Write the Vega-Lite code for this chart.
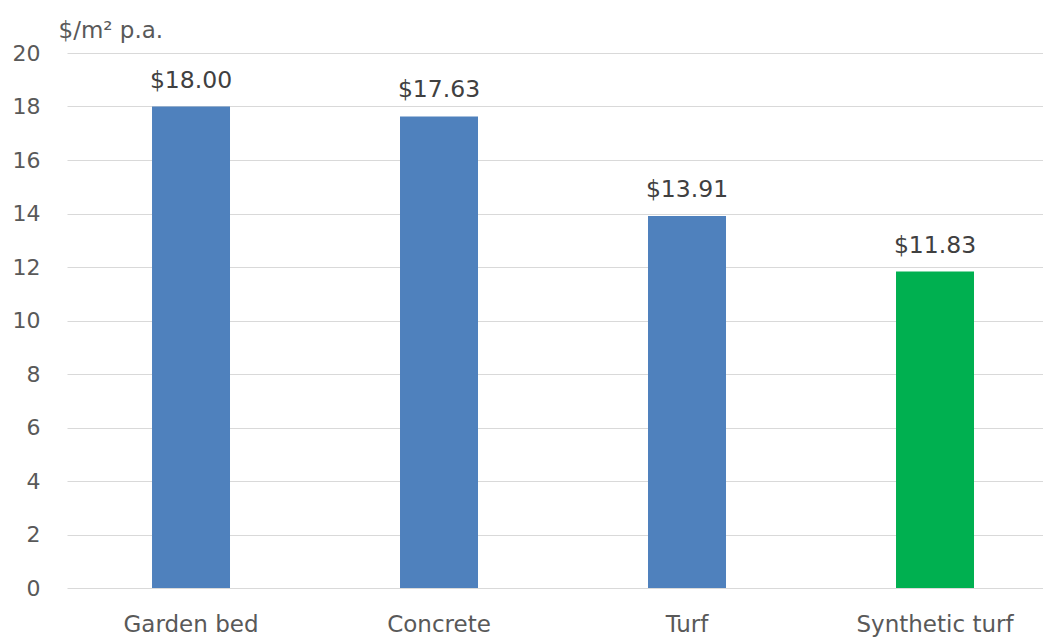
{
  "$schema": "https://vega.github.io/schema/vega-lite/v6.json",
  "width": 976,
  "height": 535,
  "autosize": {"type": "none"},
  "padding": {"left": 67, "top": 53, "right": 0, "bottom": 51},
  "background": "white",
  "data": {"values": [
    {"category": "Garden bed", "cost": 18.00, "label": "$18.00", "kind": "other"},
    {"category": "Concrete", "cost": 17.63, "label": "$17.63", "kind": "other"},
    {"category": "Turf", "cost": 13.91, "label": "$13.91", "kind": "other"},
    {"category": "Synthetic turf", "cost": 11.83, "label": "$11.83", "kind": "synthetic"}
  ]},
  "config": {
    "view": {"stroke": null},
    "font": "DejaVu Sans"
  },
  "encoding": {
    "x": {
      "field": "category", "type": "nominal", "sort": null,
      "scale": {"paddingInner": 0.6855, "paddingOuter": 0.3105, "align": 0.552},
      "axis": {"title": null, "labelAngle": 0, "labelFontSize": 23, "labelColor": "#595959", "labelPadding": 25, "ticks": false, "domain": false, "labelFont": "DejaVu Sans"}
    },
    "y": {
      "field": "cost", "type": "quantitative",
      "scale": {"domain": [0, 20]},
      "axis": {"values": [0,2,4,6,8,10,12,14,16,18,20], "title": "$/m² p.a.", "titleAngle": 0, "titleAlign": "left", "titleBaseline": "alphabetic", "titleX": -9, "titleY": -16, "titleFontSize": 23, "titleFontWeight": "normal", "titleColor": "#595959", "titleFont": "DejaVu Sans", "labelFontSize": 22, "labelColor": "#595959", "labelPadding": 27, "ticks": false, "domain": false, "gridColor": "#d9d9d9", "gridWidth": 1, "labelFont": "DejaVu Sans"}
    }
  },
  "layer": [
    {
      "mark": {"type": "bar"},
      "encoding": {
        "color": {"field": "kind", "type": "nominal", "scale": {"domain": ["other", "synthetic"], "range": ["#4f81bd", "#00b050"]}, "legend": null}
      }
    },
    {
      "mark": {"type": "text", "baseline": "alphabetic", "dy": -19, "fontSize": 23.5, "color": "#404040", "font": "DejaVu Sans"},
      "encoding": {"text": {"field": "label"}}
    }
  ]
}
